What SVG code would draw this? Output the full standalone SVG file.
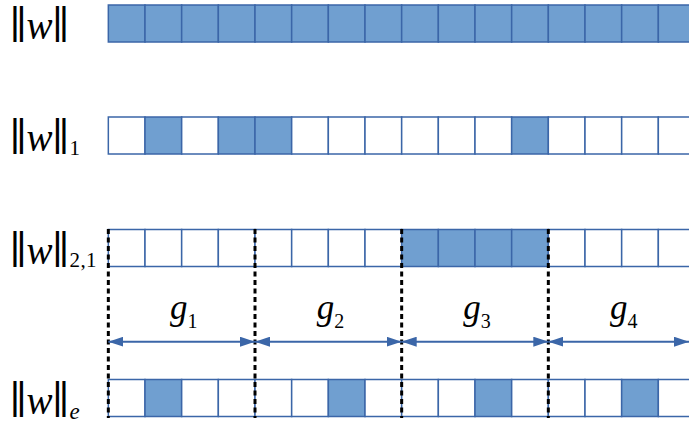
<svg xmlns="http://www.w3.org/2000/svg" width="689" height="423" viewBox="0 0 689 423">
<defs>
<style>
.lbl{font-family:"Liberation Serif",serif;fill:#000}
.bar{font-family:"Liberation Sans",sans-serif;font-size:38px;font-style:normal}
.w{font-family:"Liberation Serif",serif;font-style:italic;font-size:39px}
.sub{font-family:"Liberation Serif",serif;font-size:21px;font-style:normal}
.subi{font-family:"Liberation Serif",serif;font-size:23px;font-style:italic}
.f{fill:#709fd0;stroke:#3b66a8;stroke-width:1.5}
.e{fill:#ffffff;stroke:#3b66a8;stroke-width:1.5}
.g{font-family:"Liberation Serif",serif;font-style:italic;font-size:35px;fill:#000}
.gs{font-family:"Liberation Serif",serif;font-style:normal;font-size:20px}
.dash{stroke:#000;stroke-width:3;stroke-dasharray:5 3.5;fill:none}
.arr{stroke:#3b66a8;stroke-width:2;fill:none;marker-start:url(#ah);marker-end:url(#ah)}
</style>
<marker id="ah" markerUnits="userSpaceOnUse" markerWidth="15" markerHeight="10" refX="15" refY="5" orient="auto-start-reverse" viewBox="0 0 15 10">
<path d="M0,0 L15,5 L0,10 z" fill="#3b66a8"/>
</marker>
</defs>

<g id="label-norm">
<text class="lbl"><tspan class="bar" x="10 16.5" y="34">||</tspan><tspan class="w" x="26.5" y="39">w</tspan><tspan class="bar" x="52.5 59" y="34">||</tspan></text>
</g>
<g id="label-l1">
<text class="lbl"><tspan class="bar" x="10 16.5" y="146">||</tspan><tspan class="w" x="26.5" y="151">w</tspan><tspan class="bar" x="52.5 59" y="146">||</tspan><tspan class="sub" x="69.5" y="155">1</tspan></text>
</g>
<g id="label-l21">
<text class="lbl"><tspan class="bar" x="10 16.5" y="258.5">||</tspan><tspan class="w" x="26.5" y="263.5">w</tspan><tspan class="bar" x="52.5 59" y="258.5">||</tspan><tspan class="sub" x="69.5 80.5 86" y="267">2,1</tspan></text>
</g>
<g id="label-le">
<text class="lbl"><tspan class="bar" x="10 16.5" y="408.5">||</tspan><tspan class="w" x="26.5" y="413.5">w</tspan><tspan class="bar" x="52.5 59" y="408.5">||</tspan><tspan class="subi" x="69.5" y="419">e</tspan></text>
</g>

<g id="row-norm">
<rect class="f" x="108.33" y="5" width="36.67" height="37"/>
<rect class="f" x="145" y="5" width="36.67" height="37"/>
<rect class="f" x="181.67" y="5" width="36.67" height="37"/>
<rect class="f" x="218.33" y="5" width="36.67" height="37"/>
<rect class="f" x="255" y="5" width="36.67" height="37"/>
<rect class="f" x="291.67" y="5" width="36.67" height="37"/>
<rect class="f" x="328.33" y="5" width="36.67" height="37"/>
<rect class="f" x="365" y="5" width="36.67" height="37"/>
<rect class="f" x="401.67" y="5" width="36.67" height="37"/>
<rect class="f" x="438.33" y="5" width="36.67" height="37"/>
<rect class="f" x="475" y="5" width="36.67" height="37"/>
<rect class="f" x="511.67" y="5" width="36.67" height="37"/>
<rect class="f" x="548.33" y="5" width="36.67" height="37"/>
<rect class="f" x="585" y="5" width="36.67" height="37"/>
<rect class="f" x="621.67" y="5" width="36.67" height="37"/>
<rect class="f" x="658.33" y="5" width="36.67" height="37"/>
</g>

<g id="row-l1">
<rect class="e" x="108.33" y="117" width="36.67" height="37"/>
<rect class="f" x="145" y="117" width="36.67" height="37"/>
<rect class="e" x="181.67" y="117" width="36.67" height="37"/>
<rect class="f" x="218.33" y="117" width="36.67" height="37"/>
<rect class="f" x="255" y="117" width="36.67" height="37"/>
<rect class="e" x="291.67" y="117" width="36.67" height="37"/>
<rect class="e" x="328.33" y="117" width="36.67" height="37"/>
<rect class="e" x="365" y="117" width="36.67" height="37"/>
<rect class="e" x="401.67" y="117" width="36.67" height="37"/>
<rect class="e" x="438.33" y="117" width="36.67" height="37"/>
<rect class="e" x="475" y="117" width="36.67" height="37"/>
<rect class="f" x="511.67" y="117" width="36.67" height="37"/>
<rect class="e" x="548.33" y="117" width="36.67" height="37"/>
<rect class="e" x="585" y="117" width="36.67" height="37"/>
<rect class="e" x="621.67" y="117" width="36.67" height="37"/>
<rect class="e" x="658.33" y="117" width="36.67" height="37"/>
</g>

<g id="row-l21">
<rect class="e" x="108.33" y="229.5" width="36.67" height="37"/>
<rect class="e" x="145" y="229.5" width="36.67" height="37"/>
<rect class="e" x="181.67" y="229.5" width="36.67" height="37"/>
<rect class="e" x="218.33" y="229.5" width="36.67" height="37"/>
<rect class="e" x="255" y="229.5" width="36.67" height="37"/>
<rect class="e" x="291.67" y="229.5" width="36.67" height="37"/>
<rect class="e" x="328.33" y="229.5" width="36.67" height="37"/>
<rect class="e" x="365" y="229.5" width="36.67" height="37"/>
<rect class="f" x="401.67" y="229.5" width="36.67" height="37"/>
<rect class="f" x="438.33" y="229.5" width="36.67" height="37"/>
<rect class="f" x="475" y="229.5" width="36.67" height="37"/>
<rect class="f" x="511.67" y="229.5" width="36.67" height="37"/>
<rect class="e" x="548.33" y="229.5" width="36.67" height="37"/>
<rect class="e" x="585" y="229.5" width="36.67" height="37"/>
<rect class="e" x="621.67" y="229.5" width="36.67" height="37"/>
<rect class="e" x="658.33" y="229.5" width="36.67" height="37"/>
</g>

<g id="row-le">
<rect class="e" x="108.33" y="379.5" width="36.67" height="37"/>
<rect class="f" x="145" y="379.5" width="36.67" height="37"/>
<rect class="e" x="181.67" y="379.5" width="36.67" height="37"/>
<rect class="e" x="218.33" y="379.5" width="36.67" height="37"/>
<rect class="e" x="255" y="379.5" width="36.67" height="37"/>
<rect class="e" x="291.67" y="379.5" width="36.67" height="37"/>
<rect class="f" x="328.33" y="379.5" width="36.67" height="37"/>
<rect class="e" x="365" y="379.5" width="36.67" height="37"/>
<rect class="e" x="401.67" y="379.5" width="36.67" height="37"/>
<rect class="e" x="438.33" y="379.5" width="36.67" height="37"/>
<rect class="f" x="475" y="379.5" width="36.67" height="37"/>
<rect class="e" x="511.67" y="379.5" width="36.67" height="37"/>
<rect class="e" x="548.33" y="379.5" width="36.67" height="37"/>
<rect class="e" x="585" y="379.5" width="36.67" height="37"/>
<rect class="f" x="621.67" y="379.5" width="36.67" height="37"/>
<rect class="e" x="658.33" y="379.5" width="36.67" height="37"/>
</g>

<g id="group-labels">
<text class="g" x="170" y="319">g<tspan class="gs" dy="9">1</tspan></text>
<text class="g" x="316.7" y="319">g<tspan class="gs" dy="9">2</tspan></text>
<text class="g" x="463.3" y="319">g<tspan class="gs" dy="9">3</tspan></text>
<text class="g" x="610" y="319">g<tspan class="gs" dy="9">4</tspan></text>
</g>

<g id="connectors">
<line class="dash" x1="108.33" y1="229" x2="108.33" y2="418"/>
<line class="dash" x1="255" y1="229" x2="255" y2="418"/>
<line class="dash" x1="401.67" y1="229" x2="401.67" y2="418"/>
<line class="dash" x1="548.33" y1="229" x2="548.33" y2="418"/>
<line class="arr" x1="108.33" y1="341.7" x2="255" y2="341.7"/>
<line class="arr" x1="255" y1="341.7" x2="401.67" y2="341.7"/>
<line class="arr" x1="401.67" y1="341.7" x2="548.33" y2="341.7"/>
<line class="arr" x1="548.33" y1="341.7" x2="689" y2="341.7"/>
</g>
</svg>
